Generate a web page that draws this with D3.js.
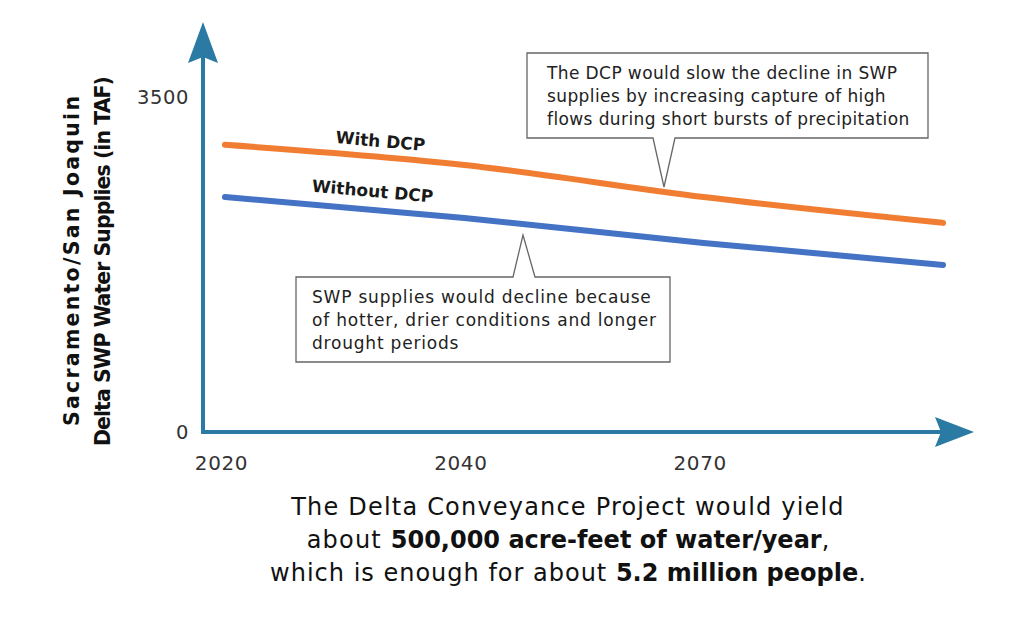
<!DOCTYPE html>
<html>
<head>
<meta charset="utf-8">
<script src="https://cdn.jsdelivr.net/npm/d3@7"></script>
<style>
  body { margin: 0; background: #fff; }
  svg { display: block; }
  text { font-family: "DejaVu Sans", sans-serif; }
</style>
</head>
<body>
<svg id="chart" width="1024" height="620"></svg>
<script>
// chart data
var years = ["2020", "2040", "2070", "2100"];
var yearLabels = ["2020", "2040", "2070"];
var withDcp = [3000, 2790, 2455, 2185];
var withoutDcp = [2455, 2235, 1975, 1745];
var yTicks = [0, 3500];
var seriesNames = ["With DCP", "Without DCP"];
var noteTop = ["The DCP would slow the decline in SWP", "supplies by increasing capture of high", "flows during short bursts of precipitation"];
var noteBottom = ["SWP supplies would decline because", "of hotter, drier conditions and longer", "drought periods"];

var axisColor = "#2a7aa3";
var svg = d3.select("#chart");

var x = d3.scalePoint().domain(years).range([225, 943]);
var y = d3.scaleLinear().domain([0, 3500]).range([432, 97]);

// axes lines with arrow heads
svg.append("line").attr("x1", 203).attr("y1", y(0) + 2).attr("x2", 203).attr("y2", 55)
  .attr("stroke", axisColor).attr("stroke-width", 4);
svg.append("line").attr("x1", 201).attr("y1", y(0)).attr("x2", 945).attr("y2", y(0))
  .attr("stroke", axisColor).attr("stroke-width", 4);
svg.append("path").attr("d", "M203,22 L218,63 L203,57 L188,63 Z").attr("fill", axisColor);
svg.append("path").attr("d", "M974,432 L935,447 L941,432 L935,417 Z").attr("fill", axisColor);

// y tick labels
var yAxis = svg.append("g").attr("transform", "translate(189,0)")
  .call(d3.axisLeft(y).tickValues(yTicks).tickSize(0).tickPadding(0).tickFormat(d3.format("d")));
yAxis.select(".domain").remove();
yAxis.selectAll("text").attr("font-size", 19.5).attr("fill", "#333")
  .attr("font-family", "DejaVu Sans, sans-serif").attr("letter-spacing", 0.6);

// x tick labels
var xAxis = svg.append("g").attr("transform", "translate(-4," + (y(0) + 24) + ")")
  .call(d3.axisBottom(x).tickValues(yearLabels).tickSize(0).tickPadding(0));
xAxis.select(".domain").remove();
xAxis.selectAll("text").attr("font-size", 20).attr("fill", "#333")
  .attr("font-family", "DejaVu Sans, sans-serif").attr("letter-spacing", 0.6);

// y title
var yTitle = svg.append("text").attr("transform", "translate(72,261) rotate(-90)")
  .attr("text-anchor", "middle").attr("font-size", 20.5).attr("font-weight", "bold").attr("fill", "#111");
yTitle.append("tspan").attr("x", 0).attr("dy", "0.35em").attr("textLength", 330).text("Sacramento/San Joaquin");
yTitle.append("tspan").attr("x", 0).attr("dy", 31).attr("textLength", 370).text("Delta SWP Water Supplies (in TAF)");

// series lines
var line = d3.line()
  .x(function(d, i) { return x(years[i]); })
  .y(function(d) { return y(d); })
  .curve(d3.curveMonotoneX);

svg.append("path").datum(withDcp).attr("d", line).attr("fill", "none")
  .attr("stroke", "#f07d32").attr("stroke-width", 6).attr("stroke-linecap", "round");
svg.append("path").datum(withoutDcp).attr("d", line).attr("fill", "none")
  .attr("stroke", "#4472c4").attr("stroke-width", 6).attr("stroke-linecap", "round");

// series labels, tilted along the lines
svg.append("text").attr("transform", "translate(380,147) rotate(5)")
  .attr("text-anchor", "middle").attr("font-size", 17).attr("font-weight", "bold").attr("fill", "#1a1a1a")
  .text(seriesNames[0]);
svg.append("text").attr("transform", "translate(372,197) rotate(5)")
  .attr("text-anchor", "middle").attr("font-size", 17).attr("font-weight", "bold").attr("fill", "#1a1a1a")
  .text(seriesNames[1]);

// callouts
function callout(box, tip, base, lines, tx, ty, up, spacing) {
  var d;
  if (up) {
    d = "M" + box[0] + "," + box[1] + " H" + base[0] + " L" + tip[0] + "," + tip[1] + " L" + base[1] + "," + box[1] +
      " H" + box[2] + " V" + box[3] + " H" + box[0] + " Z";
  } else {
    d = "M" + box[0] + "," + box[1] + " H" + box[2] + " V" + box[3] + " H" + base[1] + " L" + tip[0] + "," + tip[1] +
      " L" + base[0] + "," + box[3] + " H" + box[0] + " Z";
  }
  svg.append("path").attr("d", d).attr("fill", "#fff").attr("stroke", "#666").attr("stroke-width", 1.3);
  var t = svg.append("text").attr("font-size", 17).attr("fill", "#222").attr("letter-spacing", spacing);
  lines.forEach(function(s, i) {
    t.append("tspan").attr("x", tx).attr("y", ty + i * 23).text(s);
  });
}
callout([527, 53, 928, 138], [664, 187], [653, 675], noteTop, 547, 79, false, 0.4);
callout([296, 277, 670, 362], [523, 235], [513, 535], noteBottom, 312, 303, true, 0.8);

// bottom caption
var cap = svg.append("text").attr("text-anchor", "middle").attr("font-size", 24).attr("fill", "#111");
cap.append("tspan").attr("x", 568).attr("y", 515).attr("letter-spacing", 1.2).text("The Delta Conveyance Project would yield");
var l2 = cap.append("tspan").attr("x", 568).attr("y", 548);
l2.append("tspan").attr("letter-spacing", 1.2).text("about ");
l2.append("tspan").attr("font-weight", "bold").text("500,000 acre-feet of water/year");
l2.append("tspan").text(",");
var l3 = cap.append("tspan").attr("x", 568).attr("y", 581);
l3.append("tspan").attr("letter-spacing", 1).text("which is enough for about ");
l3.append("tspan").attr("font-weight", "bold").text("5.2 million people");
l3.append("tspan").text(".");
</script>
</body>
</html>
